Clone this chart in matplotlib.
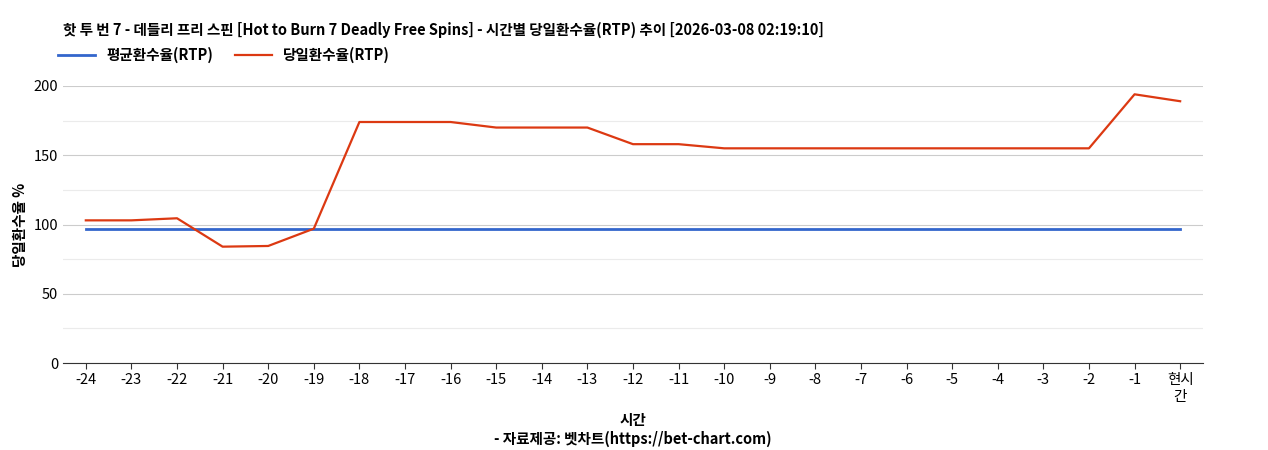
import matplotlib
matplotlib.use("Agg")
import matplotlib.pyplot as plt

plt.rcParams['font.family'] = ['Noto Sans CJK KR', 'DejaVu Sans']

categories = [str(i) for i in range(-24, 0)] + ["현시\n간"]
avg_rtp = [96.5] * 25
daily_rtp = [103, 103, 104.5, 84, 84.5, 97, 174, 174, 174, 170, 170, 170,
             158, 158, 155, 155, 155, 155, 155, 155, 155, 155, 155, 194, 189]

fig = plt.figure(figsize=(12.68, 4.5), dpi=100)
ax = fig.add_axes([0.0497, 0.1933, 0.899, 0.6156])
x = list(range(len(categories)))
ax.plot(x, avg_rtp, color="#3366cc", lw=2, label="평균환수율(RTP)")
ax.plot(x, daily_rtp, color="#dc3912", lw=1.6, label="당일환수율(RTP)")
ax.set_xlim(-0.5, 24.5)
ax.set_ylim(0, 200)
ax.set_yticks([0, 50, 100, 150, 200])
ax.set_yticks([25, 75, 125, 175], minor=True)
ax.grid(axis='y', which='major', color='#cccccc', lw=0.8)
ax.grid(axis='y', which='minor', color='#ebebeb', lw=0.8)
ax.set_axisbelow(True)
ax.set_xticks(x)
ax.set_xticklabels(categories, fontsize=10.5)
ax.tick_params(axis='y', which='both', labelsize=10.5, length=0)
ax.tick_params(axis='x', length=4, color='#333333')
for s in ['top', 'right', 'left']:
    ax.spines[s].set_visible(False)
ax.spines['bottom'].set_color('#333333')
ax.set_ylabel("당일환수율 %", fontsize=10.5, fontweight='bold')
ax.set_xlabel("시간\n- 자료제공: 벳차트(https://bet-chart.com)", fontsize=10.5, fontweight='bold', labelpad=6)
fig.text(0.0497, 0.933, "핫 투 번 7 - 데들리 프리 스핀 [Hot to Burn 7 Deadly Free Spins] - 시간별 당일환수율(RTP) 추이 [2026-03-08 02:19:10]",
         fontsize=10.5, fontweight='bold', va='center')
h, l = ax.get_legend_handles_labels()
fig.legend(h, l, loc='center left', bbox_to_anchor=(0.046, 0.878), ncol=2, frameon=False,
           prop={'weight': 'bold', 'size': 10.5}, handlelength=2.5, borderaxespad=0,
           borderpad=0, columnspacing=1.5)
fig.savefig("out.png", dpi=100)
